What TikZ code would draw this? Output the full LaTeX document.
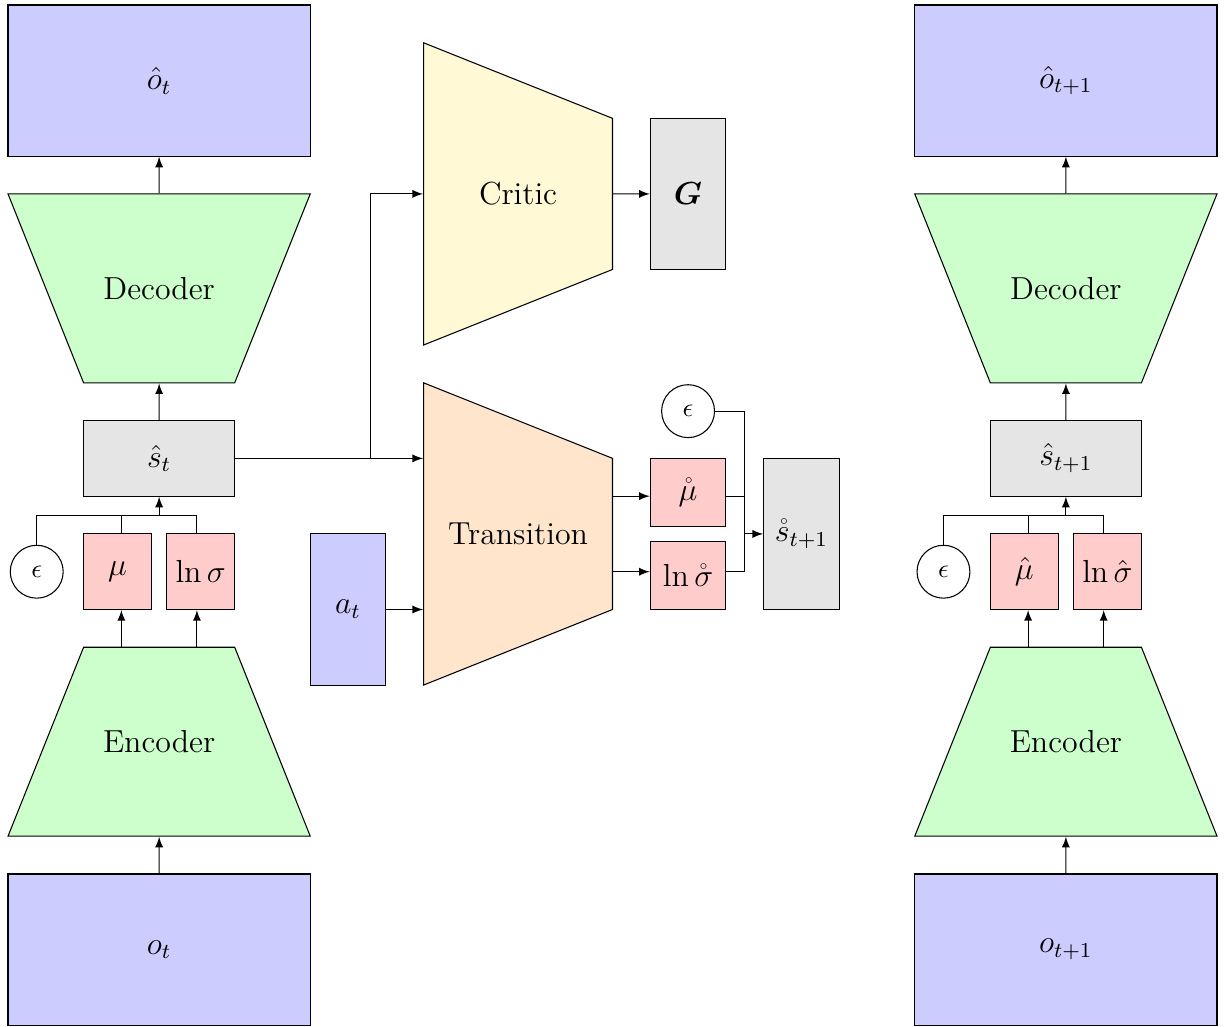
\documentclass[tikz,border=0pt]{standalone}
\usepackage{amsmath}
\usepackage{bm}
\usetikzlibrary{shapes.geometric,arrows,calc}
\definecolor{criticfill}{RGB}{255,249,214}

\begin{document}
\begin{tikzpicture}[>=latex]
	\tikzstyle{every node}=[font=\large]
	\tikzstyle{blk}=[draw, rectangle, inner sep=0pt]
	\tikzstyle{obs}=[blk, fill=blue!20, minimum width=4cm, minimum height=2cm]
	\tikzstyle{lat}=[blk, fill=gray!20, minimum width=2cm, minimum height=1cm]
	\tikzstyle{par}=[blk, fill=red!20, minimum width=0.9cm, minimum height=1cm]
	\tikzstyle{noise}=[draw, circle, minimum size=0.7cm, inner sep=0pt, font=\normalsize]
	% fixed text boxes keep the side angles of the trapezia
	\tikzstyle{net}=[draw, trapezium, trapezium angle=68.2, inner sep=0pt, align=center]
	\tikzstyle{vnet}=[net, fill=green!20, text width=2cm, text height=1.394cm, text depth=1.106cm]
	\tikzstyle{hnet}=[net, shape border rotate=270, text width=2.5cm, text height=1.144cm, text depth=0.856cm]
	\useasboundingbox (-0.106,0.066) rectangle (16.106,-13.513);

	% time step t
	\node [obs] (oh1) at (2,-1) {$\hat{o}_t$};
	\node [vnet, shape border rotate=180] (dec1) at (2,-3.75) {Decoder};
	\node [lat] (st1) at (2,-6) {$\hat{s}_t$};
	\node [noise] (eps1) at (0.38,-7.5) {$\epsilon$};
	\node [par] (mu1) at (1.45,-7.5) {$\mu$};
	\node [par] (ls1) at (2.55,-7.5) {$\ln\sigma$};
	\node [vnet] (enc1) at (2,-9.75) {Encoder};
	\node [obs] (o1) at (2,-12.5) {$o_t$};

	\coordinate (ea1) at ($(enc1.north)+(-0.5,0)$);
	\coordinate (eb1) at ($(enc1.north)+(0.5,0)$);
	\coordinate (j1) at ($(st1.south)+(0,-0.25)$);
	\draw [->] (o1) -- (enc1);
	\draw [->] (ea1) -- (ea1 |- mu1.south);
	\draw [->] (eb1) -- (eb1 |- ls1.south);
	\draw (eps1.north) |- (eb1 |- j1);
	\draw (ea1 |- mu1.north) -- (ea1 |- j1);
	\draw (eb1 |- ls1.north) -- (eb1 |- j1);
	\draw [->] (j1) -- (st1.south);
	\draw [->] (st1) -- (dec1);
	\draw [->] (dec1) -- (oh1);

	% time step t+1
	\node [obs] (oh2) at (14,-1) {$\hat{o}_{t+1}$};
	\node [vnet, shape border rotate=180] (dec2) at (14,-3.75) {Decoder};
	\node [lat] (st2) at (14,-6) {$\hat{s}_{t+1}$};
	\node [noise] (eps2) at (12.38,-7.5) {$\epsilon$};
	\node [par] (mu2) at (13.45,-7.5) {$\hat{\mu}$};
	\node [par] (ls2) at (14.55,-7.5) {$\ln\hat{\sigma}$};
	\node [vnet] (enc2) at (14,-9.75) {Encoder};
	\node [obs] (o2) at (14,-12.5) {$o_{t+1}$};

	\coordinate (ea2) at ($(enc2.north)+(-0.5,0)$);
	\coordinate (eb2) at ($(enc2.north)+(0.5,0)$);
	\coordinate (j2) at ($(st2.south)+(0,-0.25)$);
	\draw [->] (o2) -- (enc2);
	\draw [->] (ea2) -- (ea2 |- mu2.south);
	\draw [->] (eb2) -- (eb2 |- ls2.south);
	\draw (eps2.north) |- (eb2 |- j2);
	\draw (ea2 |- mu2.north) -- (ea2 |- j2);
	\draw (eb2 |- ls2.north) -- (eb2 |- j2);
	\draw [->] (j2) -- (st2.south);
	\draw [->] (st2) -- (dec2);
	\draw [->] (dec2) -- (oh2);

	% critic and transition model
	\node [hnet, fill=criticfill] (cr) at (6.75,-2.5) {Critic};
	\node [blk, fill=gray!20, minimum width=1cm, minimum height=2cm] (G) at (9,-2.5) {$\bm{G}$};
	\node [hnet, fill=orange!20] (tr) at (6.75,-7) {Transition};
	\node [blk, fill=blue!20, minimum width=1cm, minimum height=2cm] (at) at (4.5,-8) {$a_t$};
	\node [par, minimum width=1cm, minimum height=0.9cm] (mur) at (9,-6.45) {$\mathring{\mu}$};
	\node [par, minimum width=1cm, minimum height=0.9cm] (lsr) at (9,-7.55) {$\ln\mathring{\sigma}$};
	\node [noise] (eps3) at (9,-5.375) {$\epsilon$};
	\node [blk, fill=gray!20, minimum width=1cm, minimum height=2cm] (sr) at (10.5,-7) {$\mathring{s}_{t+1}$};

	\draw [->] (st1.east) -- (tr.west |- st1.east);
	\draw [->] (st1.east) -| ([xshift=-7mm]cr.west) -- (cr.west);
	\draw [->] (at.east) -- (tr.west |- at.east);
	\draw [->] (cr) -- (G);

	\coordinate (tm) at ($(tr.east)+(0,0.5)$);
	\coordinate (tl) at ($(tr.east)+(0,-0.5)$);
	\coordinate (jr) at ($(sr.west)+(-0.25,0)$);
	\draw [->] (tm) -- (tm -| mur.west);
	\draw [->] (tl) -- (tl -| lsr.west);
	\draw (tm -| mur.east) -| (jr);
	\draw (tl -| lsr.east) -| (jr);
	\draw (eps3.east) -| (jr);
	\draw [->] (jr) -- (sr.west);
\end{tikzpicture}
\end{document}
